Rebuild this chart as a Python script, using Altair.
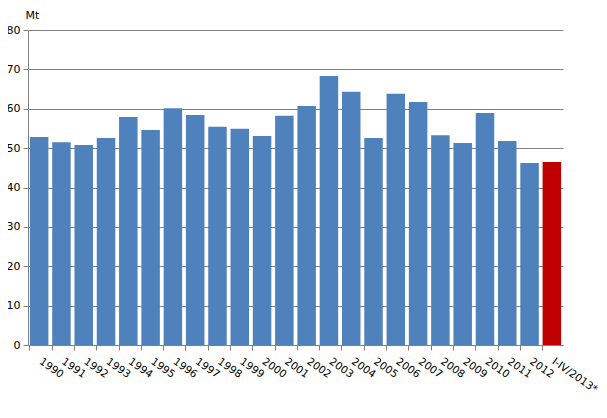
import altair as alt
import pandas as pd

years = ["1990", "1991", "1992", "1993", "1994", "1995", "1996", "1997", "1998", "1999",
         "2000", "2001", "2002", "2003", "2004", "2005", "2006", "2007", "2008", "2009",
         "2010", "2011", "2012", "I-IV/2013*"]
values = [52.8, 51.5, 50.8, 52.6, 57.9, 54.6, 60.1, 58.4, 55.4, 54.9,
          53.1, 58.2, 60.7, 68.3, 64.3, 52.6, 63.8, 61.7, 53.3, 51.3,
          58.9, 51.8, 46.2, 46.5]
highlight = ["normal"] * 23 + ["latest"]

df = pd.DataFrame({"year": years, "value": values, "kind": highlight})

step = 535 / 24

chart = alt.Chart(df).mark_bar().encode(
    x=alt.X("year:N", sort=None, title=None,
            scale=alt.Scale(paddingInner=0.17, paddingOuter=0.085),
            axis=alt.Axis(labelAngle=35, labelAlign="left", labelBaseline="top",
                          bandPosition=0, labelOffset=step / 2 - 7, labelPadding=6,
                          domainColor="#808080", tickColor="#808080", tickSize=5,
                          labelFont="DejaVu Sans", labelFontSize=10.5, labelColor="#000000",
                          labelOverlap=False, labelBound=False, grid=False)),
    y=alt.Y("value:Q", title="Mt",
            scale=alt.Scale(domain=[0, 80], nice=False),
            axis=alt.Axis(values=[0, 10, 20, 30, 40, 50, 60, 70, 80],
                          domainColor="#808080", tickColor="#808080", tickSize=5,
                          gridColor="#7f7f7f", gridWidth=1,
                          labelFont="DejaVu Sans", labelFontSize=11, labelColor="#000000",
                          titleFont="DejaVu Sans", titleFontSize=11, titleFontWeight="normal",
                          titleColor="#000000", titleAngle=0, titleAlign="left",
                          titleX=-3, titleY=-10, labelPadding=3)),
    color=alt.Color("kind:N", scale=alt.Scale(domain=["normal", "latest"],
                                              range=["#4F81BD", "#C00000"]), legend=None),
).properties(
    width=535, height=315,
    autosize=alt.AutoSizeParams(type="none"),
    padding={"left": 20, "top": 22, "right": 36, "bottom": 65},
).configure_view(stroke=None)

chart.save("out.html", embed_options={"renderer": "svg", "actions": False})
